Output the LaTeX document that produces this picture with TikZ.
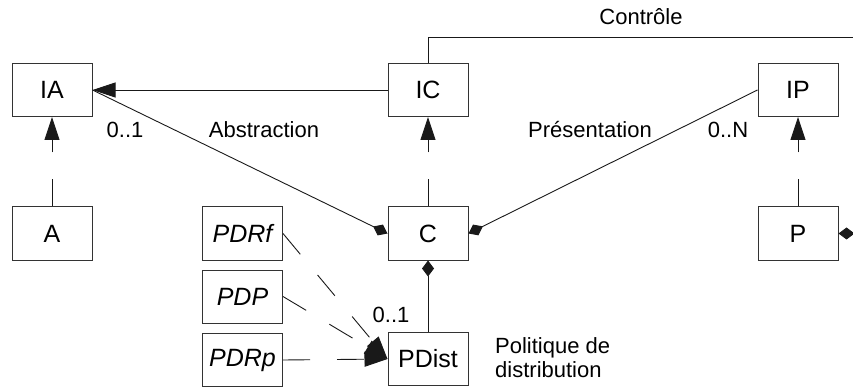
\documentclass[tikz,border=0pt]{standalone}
\usepackage{fontspec}
\setmainfont{Liberation Sans}
\usetikzlibrary{arrows.meta}
\begin{document}
\begin{tikzpicture}[x=1pt,y=-1pt,
  box/.style={draw=black!80,line width=1pt,minimum width=80pt,minimum height=53pt,inner sep=0pt,font=\fontsize{25}{28}\selectfont},
  lbl/.style={inner sep=0pt,font=\fontsize{22}{26}\selectfont},
  conn/.style={line width=0.9pt,draw=black!90},
  realize/.style={conn,dash pattern=on 27pt off 27pt,-{Triangle[length=23pt,width=15pt]}},
  gen/.style={conn,-{Triangle[length=23pt,width=15pt]}},
  comp/.style={conn,-{Diamond[length=16pt,width=12pt]}},
  compstart/.style={conn,{Diamond[length=16pt,width=12pt]}-}]
\useasboundingbox (0,0) rectangle (853,387);
\node[box] (IA) at (52,90) {IA};
\node[box] (IC) at (428,90) {IC};
\node[box] (IP) at (798,90) {IP};
\node[box] (A) at (52,233.5) {A};
\node[box] (C) at (428,233.5) {C};
\node[box] (P) at (798,233.5) {P};
\node[box] (PDRf) at (242.5,233.5) {\itshape PDRf};
\node[box] (PDP) at (242.5,296.5) {\itshape PDP};
\node[box] (PDRp) at (242.5,360) {\itshape PDRp};
\node[box] (PDist) at (428,359) {PDist};
\coordinate (ctop) at (428,37);
\coordinate (cend) at (853,37);
\coordinate (pr) at (855,233.5);
% connectors
\draw[gen] (IC.west) -- (IA.east);
\draw[comp] (IA.east) -- (C.west);
\draw[comp] (IP.west) -- (C.east);
\draw[conn] (IC.north) -- (ctop) -- (cend);
\draw[realize] (A.north) -- (IA.south);
\draw[realize] (C.north) -- (IC.south);
\draw[realize] (P.north) -- (IP.south);
\draw[compstart] (C.south) -- (PDist.north);
\draw[comp] (pr) -- (P.east);
\draw[realize] (PDRf.east) -- (PDist.west);
\draw[realize] (PDP.east) -- (PDist.west);
\draw[realize] (PDRp.east) -- (PDist.west);
% labels
\node[lbl] (l01a) at (125,130) {0..1};
\node[lbl] (labs) at (264,130) {Abstraction};
\node[lbl] (lpres) at (590,130) {Présentation};
\node[lbl] (l0n) at (728,130) {0..N};
\node[lbl] (lctrl) at (641,17) {Contrôle};
\node[lbl] (l01b) at (391,315) {0..1};
\node[lbl,anchor=west,align=left,font=\fontsize{22}{24}\selectfont] (lpol) at (495,358) {Politique de\\distribution};
\end{tikzpicture}
\end{document}
